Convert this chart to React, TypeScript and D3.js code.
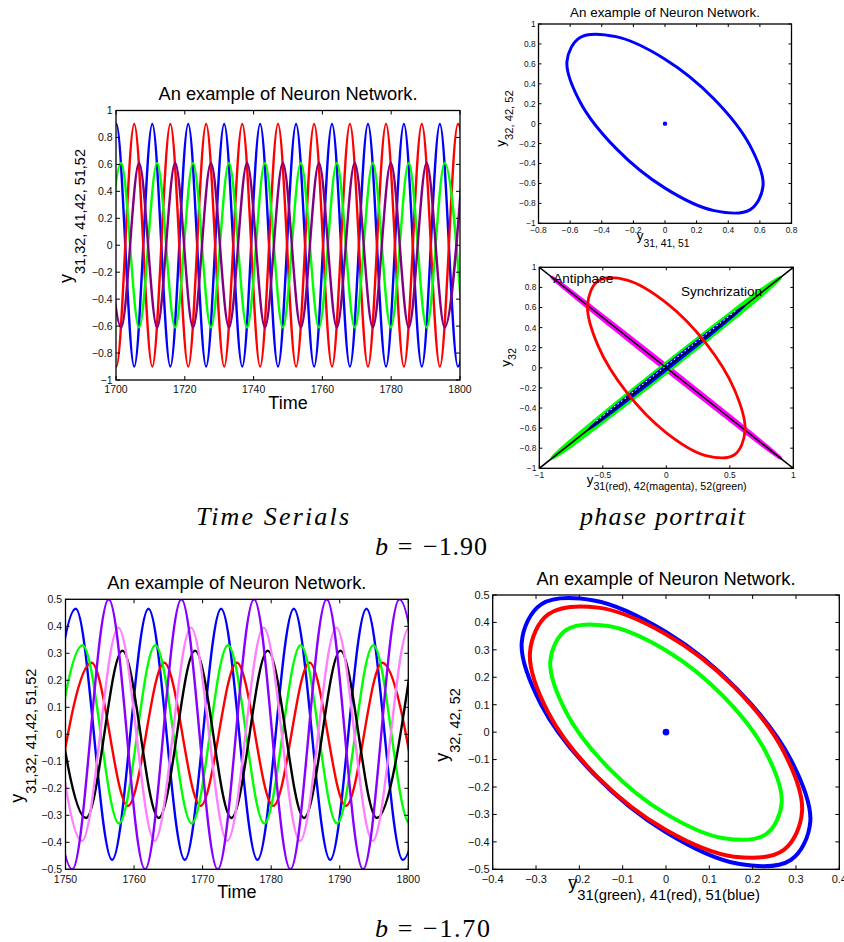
import React from "react";
import * as d3 from "d3";

type Pt = [number, number];
type Scale = d3.ScaleLinear<number, number>;

const SANS = "'Liberation Sans', Arial, Helvetica, sans-serif";
const SERIF = "'Liberation Serif', 'Times New Roman', serif";
const TITLE = "An example of Neuron Network.";

// ---------- b = -1.90 : time series, extrema (time, value) ----------
const y31_190: Pt[] = [[1694.9,-0.9],[1700.1,0.9],[1705.3,-0.9],[1710.55,0.9],[1715.8,-0.9],[1721.0,0.9],[1726.2,-0.9],[1731.45,0.9],[1736.7,-0.9],[1741.9,0.9],[1747.1,-0.9],[1752.35,0.9],[1757.6,-0.9],[1762.8,0.9],[1768.0,-0.9],[1773.25,0.9],[1778.5,-0.9],[1783.7,0.9],[1788.9,-0.9],[1794.15,0.9],[1799.4,-0.9],[1804.6,0.9]];
const y32_190: Pt[] = [[1694.9,0.9],[1700.1,-0.9],[1705.3,0.9],[1710.55,-0.9],[1715.8,0.9],[1721.0,-0.9],[1726.2,0.9],[1731.45,-0.9],[1736.7,0.9],[1741.9,-0.9],[1747.1,0.9],[1752.35,-0.9],[1757.6,0.9],[1762.8,-0.9],[1768.0,0.9],[1773.25,-0.9],[1778.5,0.9],[1783.7,-0.9],[1788.9,0.9],[1794.15,-0.9],[1799.4,0.9],[1804.6,-0.9]];
const y41_190: Pt[] = [[1696.3,-0.61],[1701.5,0.61],[1706.7,-0.61],[1711.95,0.61],[1717.2,-0.61],[1722.4,0.61],[1727.6,-0.61],[1732.85,0.61],[1738.1,-0.61],[1743.3,0.61],[1748.5,-0.61],[1753.75,0.61],[1759.0,-0.61],[1764.2,0.61],[1769.4,-0.61],[1774.65,0.61],[1779.9,-0.61],[1785.1,0.61],[1790.3,-0.61],[1795.55,0.61],[1800.8,-0.61]];
const y42_190: Pt[] = [[1696.3,0.61],[1701.5,-0.61],[1706.7,0.61],[1711.95,-0.61],[1717.2,0.61],[1722.4,-0.61],[1727.6,0.61],[1732.85,-0.61],[1738.1,0.61],[1743.3,-0.61],[1748.5,0.61],[1753.75,-0.61],[1759.0,0.61],[1764.2,-0.61],[1769.4,0.61],[1774.65,-0.61],[1779.9,0.61],[1785.1,-0.61],[1790.3,0.61],[1795.55,-0.61],[1800.8,0.61]];

// ---------- b = -1.90 : phase portraits (closed orbits, x, y) ----------
const orbit190: Pt[] = [[0.62,-0.625],[0.537,-0.865],[0.31,-0.873],[0,-0.647],[-0.31,-0.248],[-0.537,0.218],[-0.62,0.625],[-0.537,0.865],[-0.31,0.873],[0,0.647],[0.31,0.248],[0.537,-0.218]];
const antiphase190: Pt[] = [[0.9,-0.8997],[0.779,-0.791],[0.45,-0.47],[0,-0.024],[-0.45,0.429],[-0.779,0.767],[-0.9,0.8997],[-0.779,0.791],[-0.45,0.47],[0,0.024],[0.45,-0.429],[0.779,-0.767]];
const sync52_190: Pt[] = [[0.9,0.899],[0.779,0.802],[0.45,0.49],[0,0.047],[-0.45,-0.409],[-0.779,-0.755],[-0.9,-0.899],[-0.779,-0.802],[-0.45,-0.49],[0,-0.047],[0.45,0.409],[0.779,0.755]];
const sync51_190: Pt[] = [[0.62,0.619],[0.537,0.55],[0.31,0.333],[0,0.027],[-0.31,-0.286],[-0.537,-0.523],[-0.62,-0.619],[-0.537,-0.55],[-0.31,-0.333],[0,-0.027],[0.31,0.286],[0.537,0.523]];

// ---------- b = -1.70 : time series extrema ----------
const blue170: Pt[] = [[1746.2,-0.465],[1751.5,0.465],[1756.8,-0.465],[1762.1,0.465],[1767.4,-0.465],[1772.7,0.465],[1778.0,-0.465],[1783.3,0.465],[1788.6,-0.465],[1793.9,0.465],[1799.2,-0.465],[1804.5,0.465]];
const violet170: Pt[] = [[1745.7,0.5],[1751.0,-0.5],[1756.3,0.5],[1761.6,-0.5],[1766.9,0.5],[1772.2,-0.5],[1777.5,0.5],[1782.8,-0.5],[1788.1,0.5],[1793.4,-0.5],[1798.7,0.5],[1804.0,-0.5]];
const pink170: Pt[] = [[1747.1,0.395],[1752.4,-0.395],[1757.7,0.395],[1763.0,-0.395],[1768.3,0.395],[1773.6,-0.395],[1778.9,0.395],[1784.2,-0.395],[1789.5,0.395],[1794.8,-0.395],[1800.1,0.395],[1805.4,-0.395]];
const green170: Pt[] = [[1747.2,-0.33],[1752.5,0.33],[1757.8,-0.33],[1763.1,0.33],[1768.4,-0.33],[1773.7,0.33],[1779.0,-0.33],[1784.3,0.33],[1789.6,-0.33],[1794.9,0.33],[1800.2,-0.33],[1805.5,0.33]];
const black170: Pt[] = [[1747.7,0.31],[1753.0,-0.31],[1758.3,0.31],[1763.6,-0.31],[1768.9,0.31],[1774.2,-0.31],[1779.5,0.31],[1784.8,-0.31],[1790.1,0.31],[1795.4,-0.31],[1800.7,0.31]];
const red170: Pt[] = [[1748.5,-0.265],[1753.8,0.265],[1759.1,-0.265],[1764.4,0.265],[1769.7,-0.265],[1775.0,0.265],[1780.3,-0.265],[1785.6,0.265],[1790.9,-0.265],[1796.2,0.265],[1801.5,-0.265]];

// ---------- b = -1.70 : phase portrait orbits ----------
const orbit51_170: Pt[] = [[0.333,-0.327],[0.288,-0.466],[0.1665,-0.48],[0,-0.365],[-0.1665,-0.153],[-0.288,0.1],[-0.333,0.327],[-0.288,0.466],[-0.1665,0.48],[0,0.365],[0.1665,0.153],[0.288,-0.1]];
const orbit41_170: Pt[] = [[0.314,-0.289],[0.272,-0.429],[0.157,-0.454],[0,-0.357],[-0.157,-0.165],[-0.272,0.072],[-0.314,0.289],[-0.272,0.429],[-0.157,0.454],[0,0.357],[0.157,0.165],[0.272,-0.072]];
const orbit31_170: Pt[] = [[0.267,-0.258],[0.231,-0.372],[0.1335,-0.387],[0,-0.298],[-0.1335,-0.129],[-0.231,0.0745],[-0.267,0.258],[-0.231,0.372],[-0.1335,0.387],[0,0.298],[0.1335,0.129],[0.231,-0.0745]];

// ---------- ticks ----------
const ticksY1 = [-1,-0.8,-0.6,-0.4,-0.2,0,0.2,0.4,0.6,0.8,1];
const ticksX1 = [1700,1720,1740,1760,1780,1800];
const ticksX2 = [-0.8,-0.6,-0.4,-0.2,0,0.2,0.4,0.6,0.8];
const ticksX3 = [-1,-0.5,0,0.5,1];
const ticksX4 = [1750,1760,1770,1780,1790,1800];
const ticksY45 = [-0.5,-0.4,-0.3,-0.2,-0.1,0,0.1,0.2,0.3,0.4,0.5];
const ticksX5 = [-0.4,-0.3,-0.2,-0.1,0,0.1,0.2,0.3,0.4];

const fmt = d3.format("~g");

type Box = { l: number; r: number; t: number; b: number };
interface PanelProps {
  id: string; box: Box; xDom: [number, number]; yDom: [number, number];
  xTicks: number[]; yTicks: number[]; tick: number; fs: number; xGap: number; yGap: number;
  draw: (sx: Scale, sy: Scale) => React.ReactNode;
}

function Panel({ id, box, xDom, yDom, xTicks, yTicks, tick, fs, xGap, yGap, draw }: PanelProps) {
  const sx = d3.scaleLinear().domain(xDom).range([box.l, box.r]);
  const sy = d3.scaleLinear().domain(yDom).range([box.b, box.t]);
  const w = box.r - box.l, h = box.b - box.t;
  return (
    <g>
      <defs>
        <clipPath id={id}><rect x={box.l} y={box.t} width={w} height={h} /></clipPath>
      </defs>
      <g clipPath={`url(#${id})`}>{draw(sx, sy)}</g>
      <rect x={box.l} y={box.t} width={w} height={h} fill="none" stroke="#000" strokeWidth={1.3} />
      {xTicks.map((v) => {
        const x = sx(v);
        return (
          <g key={"x" + v}>
            <line x1={x} x2={x} y1={box.b} y2={box.b - tick} stroke="#000" strokeWidth={1} />
            <line x1={x} x2={x} y1={box.t} y2={box.t + tick} stroke="#000" strokeWidth={1} />
            <text x={x} y={box.b + xGap} textAnchor="middle" fontSize={fs} fontFamily={SANS} fill="#111">{fmt(v)}</text>
          </g>
        );
      })}
      {yTicks.map((v) => {
        const y = sy(v);
        return (
          <g key={"y" + v}>
            <line x1={box.l} x2={box.l + tick} y1={y} y2={y} stroke="#000" strokeWidth={1} />
            <line x1={box.r} x2={box.r - tick} y1={y} y2={y} stroke="#000" strokeWidth={1} />
            <text x={box.l - yGap} y={y} dy="0.35em" textAnchor="end" fontSize={fs} fontFamily={SANS} fill="#111">{fmt(v)}</text>
          </g>
        );
      })}
    </g>
  );
}

function series(sx: Scale, sy: Scale, data: Pt[]) {
  return d3.line<Pt>().x((d) => sx(d[0])).y((d) => sy(d[1])).curve(d3.curveMonotoneX)(data) || "";
}
function orbit(sx: Scale, sy: Scale, data: Pt[]) {
  return d3.line<Pt>().x((d) => sx(d[0])).y((d) => sy(d[1])).curve(d3.curveCatmullRomClosed)(data) || "";
}

function YLabel({ x, y, sub, fs, sfs, dy }: { x: number; y: number; sub: string; fs: number; sfs: number; dy: number }) {
  return (
    <text transform={`translate(${x},${y}) rotate(-90)`} fontSize={fs} fontFamily={SANS}>
      y<tspan fontSize={sfs} dy={dy}>{sub}</tspan>
    </text>
  );
}
function XLabel({ x, y, sub, fs, sfs, dy }: { x: number; y: number; sub: string; fs: number; sfs: number; dy: number }) {
  return (
    <text x={x} y={y} fontSize={fs} fontFamily={SANS}>
      y<tspan fontSize={sfs} dy={dy}>{sub}</tspan>
    </text>
  );
}

export default function App() {
  const b1: Box = { l: 116, r: 460, t: 110.5, b: 380 };
  const b2: Box = { l: 538.5, r: 791.5, t: 24, b: 223.3 };
  const b3: Box = { l: 539.3, r: 793.3, t: 267.3, b: 468.3 };
  const b4: Box = { l: 65.5, r: 408.3, t: 599.3, b: 869.3 };
  const b5: Box = { l: 492.7, r: 839.3, t: 595, b: 869.3 };

  return (
    <div style={{ position: "absolute", left: 0, top: 0 }}>
      <svg width={844} height={942} style={{ display: "block", background: "#fff" }}>
        {/* ---------- Panel 1: time series b=-1.90 ---------- */}
        <text x={(b1.l + b1.r) / 2} y={100} textAnchor="middle" fontSize={18.3} fontFamily={SANS}>{TITLE}</text>
        <Panel id="c1" box={b1} xDom={[1700, 1800]} yDom={[-1, 1]} xTicks={ticksX1} yTicks={ticksY1}
          tick={4} fs={10.5} xGap={13} yGap={3.5}
          draw={(sx, sy) => (
            <g fill="none" strokeWidth={2.4} strokeLinejoin="round">
              <path d={series(sx, sy, y31_190)} stroke="#0000ff" />
              <path d={series(sx, sy, y32_190)} stroke="#ff0000" />
              <path d={series(sx, sy, y41_190)} stroke="#00ff00" />
              <path d={series(sx, sy, y42_190)} stroke="#800080" />
            </g>
          )} />
        <text x={(b1.l + b1.r) / 2} y={409} textAnchor="middle" fontSize={18} fontFamily={SANS}>Time</text>
        <YLabel x={72} y={283} sub="31,32, 41,42, 51,52" fs={18} sfs={14.5} dy={13} />

        {/* ---------- Panel 2: phase portrait ---------- */}
        <text x={(b2.l + b2.r) / 2} y={16.7} textAnchor="middle" fontSize={13.4} fontFamily={SANS}>{TITLE}</text>
        <Panel id="c2" box={b2} xDom={[-0.8, 0.8]} yDom={[-1, 1]} xTicks={ticksX2} yTicks={ticksY1}
          tick={3} fs={8.4} xGap={9.4} yGap={2.8}
          draw={(sx, sy) => (
            <g>
              <path d={orbit(sx, sy, orbit190)} fill="none" stroke="#0000ff" strokeWidth={3} />
              <circle cx={sx(0)} cy={sy(0)} r={2.2} fill="#0000ff" />
            </g>
          )} />
        <XLabel x={636.7} y={240.3} sub="31, 41, 51" fs={13.4} sfs={10.4} dy={6.4} />
        <YLabel x={505.3} y={146.7} sub="32, 42, 52" fs={13.4} sfs={11.2} dy={8} />

        {/* ---------- Panel 3: sync / antiphase ---------- */}
        <Panel id="c3" box={b3} xDom={[-1, 1]} yDom={[-1, 1]} xTicks={ticksX3} yTicks={ticksY1}
          tick={3} fs={8.4} xGap={9.6} yGap={3}
          draw={(sx, sy) => (
            <g>
              <path d={orbit(sx, sy, antiphase190)} fill="#ff00ff" stroke="#ff00ff" strokeWidth={3.4} />
              <path d={orbit(sx, sy, sync52_190)} fill="#00ff00" stroke="#00ff00" strokeWidth={3.6} />
              <path d={orbit(sx, sy, sync51_190)} fill="#0000ff" stroke="#0000ff" strokeWidth={2} />
              <line x1={sx(-0.55)} y1={sy(-0.53)} x2={sx(0.55)} y2={sy(0.57)} stroke="#fff" strokeWidth={1.1} strokeDasharray="1.5 3" />
              <line x1={sx(-1)} y1={sy(1)} x2={sx(1)} y2={sy(-1)} stroke="#000" strokeWidth={1.5} />
              <line x1={sx(-1)} y1={sy(-1)} x2={sx(1)} y2={sy(1)} stroke="#000" strokeWidth={1.5} />
              <path d={orbit(sx, sy, orbit190)} fill="none" stroke="#ff0000" strokeWidth={2.8} />
            </g>
          )} />
        <text x={553.3} y={283} fontSize={13.5} fontFamily={SANS}>Antiphase</text>
        <text x={681} y={295.5} fontSize={13.5} fontFamily={SANS}>Synchrization</text>
        <XLabel x={586.7} y={483.7} sub="31(red), 42(magenta), 52(green)" fs={13.4} sfs={10.7} dy={6.5} />
        <YLabel x={509.7} y={366.7} sub="32" fs={13.4} sfs={10.8} dy={6.5} />

        {/* captions */}
        <text x={196} y={525} fontSize={26} fontStyle="italic" fontFamily={SERIF} textLength={153} lengthAdjust="spacing">Time Serials</text>
        <text x={580} y={525} fontSize={26} fontStyle="italic" fontFamily={SERIF} textLength={165} lengthAdjust="spacing">phase portrait</text>
        <text x={375} y={555} fontSize={26} fontStyle="italic" fontFamily={SERIF}>b</text>
        <text x={405} y={555} fontSize={26} textAnchor="middle" fontFamily={SERIF}>=</text>
        <text x={423} y={555} fontSize={26} fontFamily={SERIF} textLength={64} lengthAdjust="spacing">−1.90</text>

        {/* ---------- Panel 4: time series b=-1.70 ---------- */}
        <text x={(b4.l + b4.r) / 2} y={589} textAnchor="middle" fontSize={18.3} fontFamily={SANS}>{TITLE}</text>
        <Panel id="c4" box={b4} xDom={[1750, 1800]} yDom={[-0.5, 0.5]} xTicks={ticksX4} yTicks={ticksY45}
          tick={4} fs={10.5} xGap={13.3} yGap={3.5}
          draw={(sx, sy) => (
            <g fill="none" strokeWidth={2.4} strokeLinejoin="round">
              <path d={series(sx, sy, blue170)} stroke="#0000ff" />
              <path d={series(sx, sy, red170)} stroke="#ff0000" />
              <path d={series(sx, sy, green170)} stroke="#00ff00" />
              <path d={series(sx, sy, black170)} stroke="#000000" />
              <path d={series(sx, sy, pink170)} stroke="#ff80ff" />
              <path d={series(sx, sy, violet170)} stroke="#8800ff" />
            </g>
          )} />
        <text x={(b4.l + b4.r) / 2} y={898} textAnchor="middle" fontSize={18} fontFamily={SANS}>Time</text>
        <YLabel x={22.5} y={802.7} sub="31,32, 41,42, 51,52" fs={18} sfs={14.5} dy={13.5} />

        {/* ---------- Panel 5: phase portrait b=-1.70 ---------- */}
        <text x={(b5.l + b5.r) / 2} y={585} textAnchor="middle" fontSize={18.3} fontFamily={SANS}>{TITLE}</text>
        <Panel id="c5" box={b5} xDom={[-0.4, 0.4]} yDom={[-0.5, 0.5]} xTicks={ticksX5} yTicks={ticksY45}
          tick={4} fs={11} xGap={13.7} yGap={3}
          draw={(sx, sy) => (
            <g fill="none" strokeWidth={4}>
              <path d={orbit(sx, sy, orbit51_170)} stroke="#0000ff" />
              <path d={orbit(sx, sy, orbit41_170)} stroke="#ff0000" />
              <path d={orbit(sx, sy, orbit31_170)} stroke="#00ff00" />
              <circle cx={sx(0)} cy={sy(0)} r={3.3} fill="#0000ff" stroke="none" />
            </g>
          )} />
        <XLabel x={568.3} y={888.7} sub="31(green), 41(red), 51(blue)" fs={18} sfs={14.8} dy={11} />
        <YLabel x={447.5} y={761.7} sub="32, 42, 52" fs={18} sfs={14.5} dy={12.5} />

        <text x={375} y={937} fontSize={26} fontStyle="italic" fontFamily={SERIF}>b</text>
        <text x={405} y={937} fontSize={26} textAnchor="middle" fontFamily={SERIF}>=</text>
        <text x={423} y={937} fontSize={26} fontFamily={SERIF} textLength={67} lengthAdjust="spacing">−1.70</text>
      </svg>
    </div>
  );
}
